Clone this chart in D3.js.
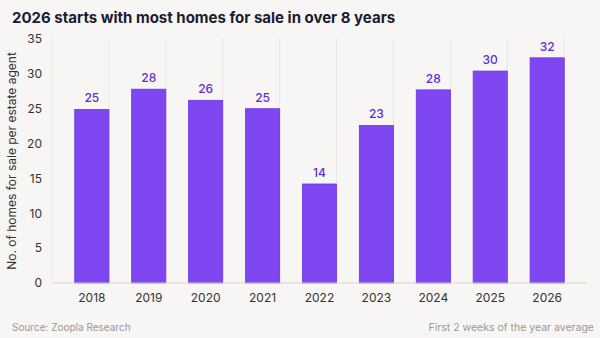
<!DOCTYPE html>
<html lang="en">
<head>
<meta charset="UTF-8">
<script src="https://d3js.org/d3.v7.min.js"></script>
<style>
    body { margin: 0; background: #f7f6f4; font-family: Inter, "Noto Sans", sans-serif; }
    svg { display: block; }
</style>
</head>
<body>
<svg id="chart" width="600" height="338"></svg>
<script>
    const years = ["2018", "2019", "2020", "2021", "2022", "2023", "2024", "2025", "2026"];
    const homesPerAgent = [24.9, 27.8, 26.2, 25.0, 14.2, 22.6, 27.7, 30.4, 32.3];
    const yTicks = [0, 5, 10, 15, 20, 25, 30, 35];

    const data = years.map((y, i) => ({ year: y, value: homesPerAgent[i] }));

    const svg = d3.select("#chart");
    const margin = { top: 39, right: 13, bottom: 55, left: 52 };
    const width = 600 - margin.left - margin.right;
    const height = 338 - margin.top - margin.bottom;

    svg.append("rect").attr("width", 600).attr("height", 338).attr("fill", "#f7f6f4");

    svg.append("text")
        .attr("x", 12).attr("y", 23)
        .attr("fill", "#1b1b2f")
        .style("font-size", "15px")
        .style("font-weight", "700")
        .text("2026 starts with most homes for sale in over 8 years");

    const g = svg.append("g").attr("transform", `translate(${margin.left},${margin.top})`);

    const x = d3.scaleBand().domain(years).range([0, width]).padding(0.4);
    const y = d3.scaleLinear().domain([0, 35]).range([height, 0]);

    // vertical separators between categories
    const step = x.step();
    g.selectAll(".sep")
        .data(d3.range(years.length + 1))
        .enter().append("line")
        .attr("x1", i => i * step).attr("x2", i => i * step)
        .attr("y1", 0).attr("y2", height)
        .attr("stroke", "#e9e7e4").attr("stroke-width", 1);

    g.selectAll(".bar")
        .data(data)
        .enter().append("rect")
        .attr("x", d => x(d.year))
        .attr("y", d => y(d.value))
        .attr("width", x.bandwidth())
        .attr("height", d => height - y(d.value))
        .attr("fill", "#7f47f2")
        .attr("stroke", "#6a35e6")
        .attr("stroke-width", 0.8);

    g.selectAll(".val")
        .data(data)
        .enter().append("text")
        .attr("x", d => x(d.year) + x.bandwidth() / 2)
        .attr("y", d => y(d.value) - 7)
        .attr("text-anchor", "middle")
        .attr("fill", "#5b2ed6")
        .style("font-size", "12px")
        .style("font-weight", "500")
        .text(d => Math.round(d.value));

    // baseline
    g.append("line")
        .attr("x1", 0).attr("x2", width)
        .attr("y1", height).attr("y2", height)
        .attr("stroke", "#d6d4d0");

    const yAxis = g.append("g")
        .call(d3.axisLeft(y).tickValues(yTicks).tickSize(0).tickPadding(10));
    yAxis.select(".domain").remove();
    yAxis.selectAll("text")
        .attr("fill", "#333").style("font-size", "12px").style("font-family", "Inter, sans-serif");

    const xAxis = g.append("g")
        .attr("transform", `translate(0,${height})`)
        .call(d3.axisBottom(x).tickSize(0).tickPadding(10));
    xAxis.select(".domain").remove();
    xAxis.selectAll("text")
        .attr("fill", "#333").style("font-size", "12px").style("font-family", "Inter, sans-serif");

    svg.append("text")
        .attr("transform", `translate(16,${margin.top + height / 2}) rotate(-90)`)
        .attr("text-anchor", "middle")
        .attr("fill", "#333")
        .style("font-size", "12px")
        .text("No. of homes for sale per estate agent");

    svg.append("text")
        .attr("x", 12).attr("y", 331)
        .attr("fill", "#9a9894")
        .style("font-size", "10px")
        .text("Source: Zoopla Research");

    svg.append("text")
        .attr("x", 594).attr("y", 331)
        .attr("text-anchor", "end")
        .attr("fill", "#9a9894")
        .style("font-size", "10.5px")
        .text("First 2 weeks of the year average");
</script>
</body>
</html>
